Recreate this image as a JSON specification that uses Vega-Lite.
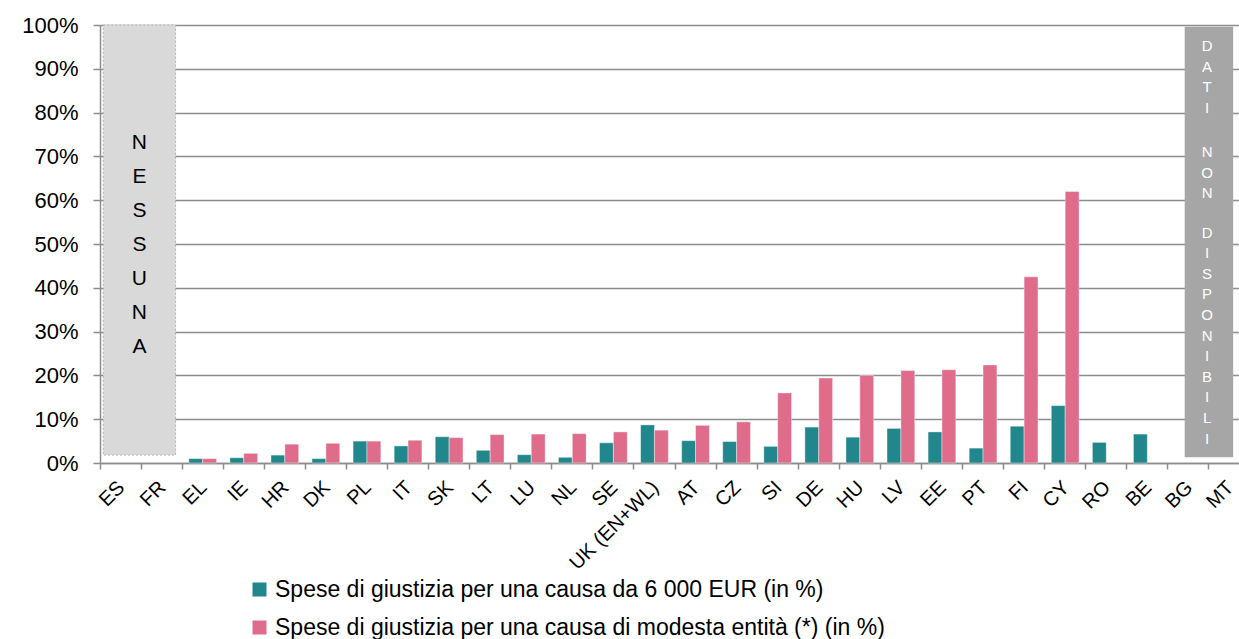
{
  "$schema": "https://vega.github.io/schema/vega-lite/v6.json",
  "width": 1139,
  "height": 438,
  "autosize": {"type": "none"},
  "padding": {"left": 100, "top": 25, "right": 0, "bottom": 176},
  "config": {"view": {"stroke": null}, "font": "Liberation Sans"},
  "datasets": {
    "bars": [
      {"paese": "EL", "serie": "Spese di giustizia per una causa da 6  000 EUR (in %)", "valore": 1.0},
      {"paese": "EL", "serie": "Spese di giustizia per una causa di modesta entità (*) (in %)", "valore": 1.0},
      {"paese": "IE", "serie": "Spese di giustizia per una causa da 6  000 EUR (in %)", "valore": 1.2},
      {"paese": "IE", "serie": "Spese di giustizia per una causa di modesta entità (*) (in %)", "valore": 2.2},
      {"paese": "HR", "serie": "Spese di giustizia per una causa da 6  000 EUR (in %)", "valore": 1.8},
      {"paese": "HR", "serie": "Spese di giustizia per una causa di modesta entità (*) (in %)", "valore": 4.3},
      {"paese": "DK", "serie": "Spese di giustizia per una causa da 6  000 EUR (in %)", "valore": 1.0},
      {"paese": "DK", "serie": "Spese di giustizia per una causa di modesta entità (*) (in %)", "valore": 4.5},
      {"paese": "PL", "serie": "Spese di giustizia per una causa da 6  000 EUR (in %)", "valore": 5.0},
      {"paese": "PL", "serie": "Spese di giustizia per una causa di modesta entità (*) (in %)", "valore": 5.0},
      {"paese": "IT", "serie": "Spese di giustizia per una causa da 6  000 EUR (in %)", "valore": 3.9},
      {"paese": "IT", "serie": "Spese di giustizia per una causa di modesta entità (*) (in %)", "valore": 5.2},
      {"paese": "SK", "serie": "Spese di giustizia per una causa da 6  000 EUR (in %)", "valore": 6.0},
      {"paese": "SK", "serie": "Spese di giustizia per una causa di modesta entità (*) (in %)", "valore": 5.8},
      {"paese": "LT", "serie": "Spese di giustizia per una causa da 6  000 EUR (in %)", "valore": 2.9},
      {"paese": "LT", "serie": "Spese di giustizia per una causa di modesta entità (*) (in %)", "valore": 6.5},
      {"paese": "LU", "serie": "Spese di giustizia per una causa da 6  000 EUR (in %)", "valore": 1.9},
      {"paese": "LU", "serie": "Spese di giustizia per una causa di modesta entità (*) (in %)", "valore": 6.6},
      {"paese": "NL", "serie": "Spese di giustizia per una causa da 6  000 EUR (in %)", "valore": 1.3},
      {"paese": "NL", "serie": "Spese di giustizia per una causa di modesta entità (*) (in %)", "valore": 6.7},
      {"paese": "SE", "serie": "Spese di giustizia per una causa da 6  000 EUR (in %)", "valore": 4.6},
      {"paese": "SE", "serie": "Spese di giustizia per una causa di modesta entità (*) (in %)", "valore": 7.1},
      {"paese": "UK (EN+WL)", "serie": "Spese di giustizia per una causa da 6  000 EUR (in %)", "valore": 8.7},
      {"paese": "UK (EN+WL)", "serie": "Spese di giustizia per una causa di modesta entità (*) (in %)", "valore": 7.5},
      {"paese": "AT", "serie": "Spese di giustizia per una causa da 6  000 EUR (in %)", "valore": 5.1},
      {"paese": "AT", "serie": "Spese di giustizia per una causa di modesta entità (*) (in %)", "valore": 8.6},
      {"paese": "CZ", "serie": "Spese di giustizia per una causa da 6  000 EUR (in %)", "valore": 4.9},
      {"paese": "CZ", "serie": "Spese di giustizia per una causa di modesta entità (*) (in %)", "valore": 9.4},
      {"paese": "SI", "serie": "Spese di giustizia per una causa da 6  000 EUR (in %)", "valore": 3.8},
      {"paese": "SI", "serie": "Spese di giustizia per una causa di modesta entità (*) (in %)", "valore": 16.0},
      {"paese": "DE", "serie": "Spese di giustizia per una causa da 6  000 EUR (in %)", "valore": 8.2},
      {"paese": "DE", "serie": "Spese di giustizia per una causa di modesta entità (*) (in %)", "valore": 19.4},
      {"paese": "HU", "serie": "Spese di giustizia per una causa da 6  000 EUR (in %)", "valore": 5.9},
      {"paese": "HU", "serie": "Spese di giustizia per una causa di modesta entità (*) (in %)", "valore": 20.0},
      {"paese": "LV", "serie": "Spese di giustizia per una causa da 6  000 EUR (in %)", "valore": 7.9},
      {"paese": "LV", "serie": "Spese di giustizia per una causa di modesta entità (*) (in %)", "valore": 21.1},
      {"paese": "EE", "serie": "Spese di giustizia per una causa da 6  000 EUR (in %)", "valore": 7.1},
      {"paese": "EE", "serie": "Spese di giustizia per una causa di modesta entità (*) (in %)", "valore": 21.3},
      {"paese": "PT", "serie": "Spese di giustizia per una causa da 6  000 EUR (in %)", "valore": 3.4},
      {"paese": "PT", "serie": "Spese di giustizia per una causa di modesta entità (*) (in %)", "valore": 22.4},
      {"paese": "FI", "serie": "Spese di giustizia per una causa da 6  000 EUR (in %)", "valore": 8.4},
      {"paese": "FI", "serie": "Spese di giustizia per una causa di modesta entità (*) (in %)", "valore": 42.5},
      {"paese": "CY", "serie": "Spese di giustizia per una causa da 6  000 EUR (in %)", "valore": 13.1},
      {"paese": "CY", "serie": "Spese di giustizia per una causa di modesta entità (*) (in %)", "valore": 62.0},
      {"paese": "RO", "serie": "Spese di giustizia per una causa da 6  000 EUR (in %)", "valore": 4.7},
      {"paese": "BE", "serie": "Spese di giustizia per una causa da 6  000 EUR (in %)", "valore": 6.6}
    ],
    "nessuna": [{"da": "ES", "a": "FR", "basso": 1.8, "alto": 100, "testo": "N\nE\nS\nS\nU\nN\nA", "ty": 73.1}],
    "nondisp": [{"da": "BG", "a": "MT", "basso": 1.3, "alto": 99.6}],
    "nondisp_testo": [
      {"da": "BG", "testo": "D\nA\nT\nI", "ty": 95.2},
      {"da": "BG", "testo": "N\nO\nN", "ty": 71.0},
      {"da": "BG", "testo": "D\nI\nS\nP\nO\nN\nI\nB\nI\nL\nI", "ty": 52.6}
    ]
  },
  "layer": [
    {
      "data": {"name": "bars"},
      "mark": {"type": "bar", "stroke": "#ffffff", "strokeOpacity": 0.5, "strokeWidth": 0.8},
      "encoding": {
        "x": {
          "field": "paese", "type": "nominal", "sort": null, "title": null,
          "scale": {"domain": ["ES","FR","EL","IE","HR","DK","PL","IT","SK","LT","LU","NL","SE","UK (EN+WL)","AT","CZ","SI","DE","HU","LV","EE","PT","FI","CY","RO","BE","BG","MT"], "range": [0, 1150], "paddingInner": 0, "paddingOuter": 0},
          "axis": {
            "title": null, "bandPosition": 0, "labelAngle": -45, "labelAlign": "right", "labelBaseline": "middle",
            "labelOffset": 1, "labelPadding": 15, "labelFontSize": 20, "labelColor": "#000000",
            "tickSize": 6, "tickColor": "#8c8c8c", "tickWidth": 1.5, "domainColor": "#8c8c8c", "domainWidth": 1.5,
            "grid": false, "labelOverlap": false, "labelBound": false
          }
        },
        "xOffset": {"field": "serie", "type": "nominal", "sort": null, "scale": {"domain": ["Spese di giustizia per una causa da 6  000 EUR (in %)", "Spese di giustizia per una causa di modesta entità (*) (in %)"], "paddingInner": 0, "paddingOuter": 0.48}},
        "y": {
          "field": "valore", "type": "quantitative", "title": null,
          "scale": {"domain": [0, 100], "nice": false},
          "axis": {
            "title": null, "values": [0,10,20,30,40,50,60,70,80,90,100], "labelExpr": "datum.value + '%'",
            "labelFontSize": 22, "labelColor": "#000000", "labelPadding": 15,
            "tickSize": 7, "tickColor": "#8c8c8c", "tickWidth": 1.5, "domainColor": "#8c8c8c", "domainWidth": 1.5,
            "grid": true, "gridColor": "#8c8c8c", "gridWidth": 1.5
          }
        },
        "color": {
          "field": "serie", "type": "nominal", "sort": null,
          "scale": {"domain": ["Spese di giustizia per una causa da 6  000 EUR (in %)", "Spese di giustizia per una causa di modesta entità (*) (in %)"], "range": ["#22878c", "#e06c8c"]},
          "legend": {
            "title": null, "orient": "none", "legendX": 148, "legendY": 553, "direction": "vertical",
            "symbolType": "square", "symbolSize": 196, "symbolStrokeWidth": 0, "labelFontSize": 23, "labelColor": "#000000",
            "labelLimit": 1000, "labelOffset": 4, "rowPadding": 14
          }
        }
      }
    },
    {
      "data": {"name": "nessuna"},
      "mark": {"type": "rect", "fill": "#d9d9d9", "stroke": "#b0b0b0", "strokeDash": [2, 2], "strokeWidth": 1},
      "encoding": {
        "x": {"field": "da", "type": "nominal", "bandPosition": 0.08, "title": null},
        "x2": {"field": "a", "bandPosition": 0.84},
        "y": {"field": "basso", "type": "quantitative", "title": null},
        "y2": {"field": "alto"}
      }
    },
    {
      "data": {"name": "nessuna"},
      "mark": {"type": "text", "lineBreak": "\n", "lineHeight": 34, "fontSize": 21, "color": "#000000", "align": "center", "baseline": "middle"},
      "encoding": {
        "x": {"field": "da", "type": "nominal", "bandPosition": 0.96, "title": null},
        "y": {"field": "ty", "type": "quantitative", "title": null},
        "text": {"field": "testo"}
      }
    },
    {
      "data": {"name": "nondisp"},
      "mark": {"type": "rect", "fill": "#a6a6a6"},
      "encoding": {
        "x": {"field": "da", "type": "nominal", "bandPosition": 0.41, "title": null},
        "x2": {"field": "a", "bandPosition": 0.59},
        "y": {"field": "basso", "type": "quantitative", "title": null},
        "y2": {"field": "alto"}
      }
    },
    {
      "data": {"name": "nondisp_testo"},
      "mark": {"type": "text", "lineBreak": "\n", "lineHeight": 20.6, "fontSize": 15, "color": "#ffffff", "align": "center", "baseline": "middle"},
      "encoding": {
        "x": {"field": "da", "type": "nominal", "bandPosition": 0.955, "title": null},
        "y": {"field": "ty", "type": "quantitative", "title": null},
        "text": {"field": "testo"}
      }
    }
  ]
}
